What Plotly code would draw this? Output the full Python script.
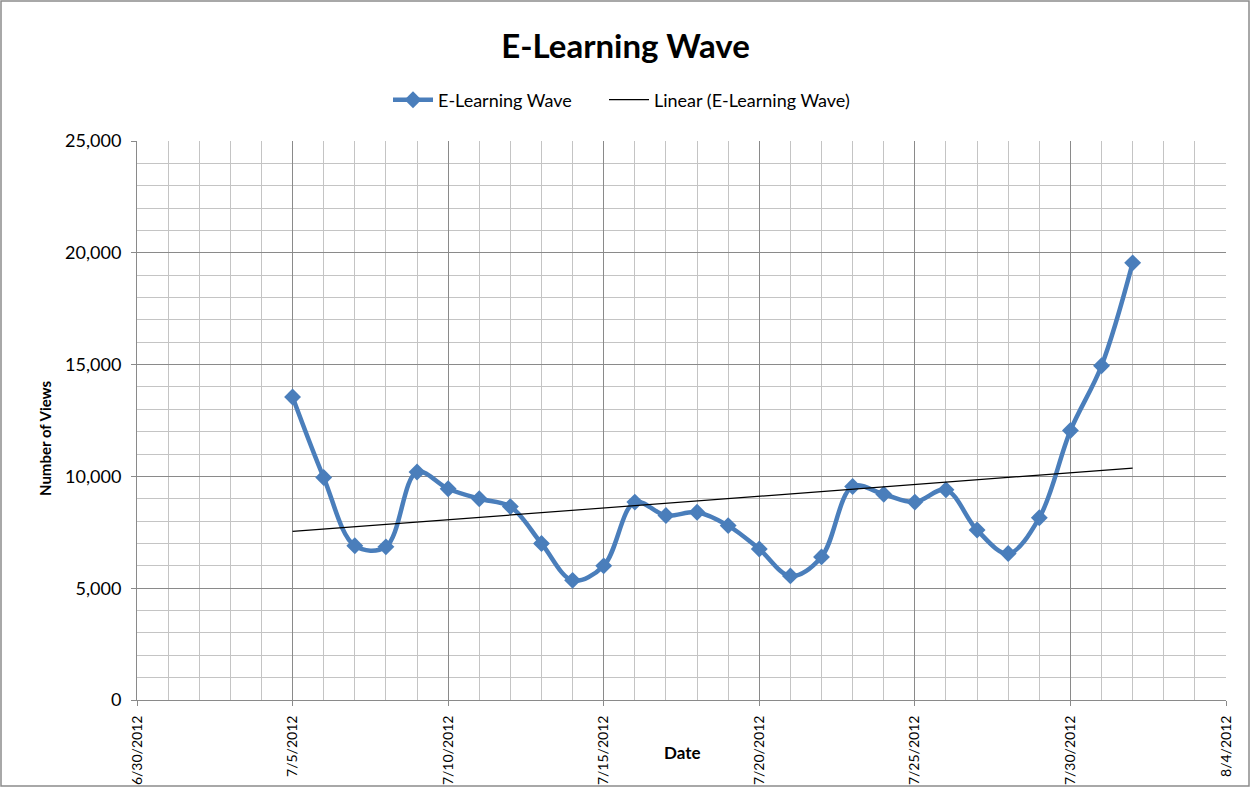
import numpy as np
import pandas as pd
import plotly.graph_objects as go

dates = pd.date_range("2012-07-05", "2012-08-01", freq="D")
views = [13550, 9950, 6900, 6850, 10200, 9450, 9000, 8650, 7000, 5350,
         6000, 8850, 8250, 8400, 7800, 6750, 5550, 6400, 9550, 9200,
         8850, 9400, 7600, 6550, 8150, 12050, 14950, 19550]
series_name = "E-Learning Wave"
trend_name = "Linear (E-Learning Wave)"
y_ticks = [0, 5000, 10000, 15000, 20000, 25000]

# linear trendline (least squares over day index)
days = np.arange(len(views))
slope, intercept = np.polyfit(days, views, 1)
trend = slope * days + intercept

W, H = 1251, 789
L, R, T, B = 137, 25, 141, 89
pw, ph = W - L - R, H - T - B

font = "Lato, 'Open Sans', sans-serif"
major = "#8A8A8A"
minor = "#C4C4C4"
blue = "#4A7EBB"

fig = go.Figure()
fig.add_trace(go.Scatter(
    x=dates, y=views, name=series_name, mode="lines+markers",
    line=dict(color=blue, width=4.5, shape="spline", smoothing=1),
    marker=dict(symbol="diamond", size=13, color=blue),
    legend="legend",
))
fig.add_trace(go.Scatter(
    x=dates, y=trend, name=trend_name, mode="lines",
    line=dict(color="black", width=1.2),
    legend="legend2",
))

leg_y = (ph + T - 100) / ph
leg_common = dict(orientation="h", xanchor="left", y=leg_y, yanchor="middle",
                  font=dict(size=18), itemwidth=40, bgcolor="rgba(0,0,0,0)")

fig.update_layout(
    width=W, height=H,
    margin=dict(l=L, r=R, t=T, b=B, autoexpand=False),
    paper_bgcolor="white", plot_bgcolor="white",
    font=dict(family=font, size=15, color="black"),
    title=dict(text="<b>E-Learning Wave</b>", x=0.5, xanchor="center",
               y=1 - 46 / H, yanchor="middle",
               font=dict(size=33, family=font, color="black")),
    legend=dict(x=(388 - L) / pw, **leg_common),
    legend2=dict(x=(604 - L) / pw, **leg_common),
    showlegend=True,
)

fig.update_xaxes(
    type="date",
    range=["2012-06-30", "2012-08-04"],
    tick0="2012-06-30", dtick=5 * 86400000,
    tickformat="%-m/%-d/%Y", tickangle=-90,
    ticks="outside", ticklen=5, tickcolor=major,
    ticklabelstandoff=4,
    showgrid=True, gridcolor=major, gridwidth=1,
    minor=dict(dtick=86400000, showgrid=True, gridcolor=minor, gridwidth=1),
    showline=True, linecolor=major, linewidth=1,
    zeroline=False, automargin=False,
    tickfont=dict(size=14),
)
fig.update_yaxes(
    range=[0, 25000],
    tickvals=y_ticks, tickformat=",d",
    ticks="outside", ticklen=5, tickcolor=major,
    ticklabelstandoff=6,
    showgrid=True, gridcolor=major, gridwidth=1,
    minor=dict(dtick=1000, showgrid=True, gridcolor=minor, gridwidth=1),
    showline=True, linecolor=major, linewidth=1,
    zeroline=False, automargin=False,
    tickfont=dict(size=18),
)

# axis titles placed as in the reference
fig.add_annotation(text="<b>Date</b>", xref="paper", yref="paper",
                   x=(682 - L) / pw, y=-(752 - (T + ph)) / ph,
                   showarrow=False, font=dict(size=17),
                   xanchor="center", yanchor="middle")
fig.add_annotation(text="<b>Number of Views</b>", xref="paper", yref="paper",
                   x=(45 - L) / pw, y=(T + ph - 438) / ph, textangle=-90,
                   showarrow=False, font=dict(size=15),
                   xanchor="center", yanchor="middle")

# outer chart border
fig.add_shape(type="rect", xref="paper", yref="paper",
              x0=(1 - L) / pw, x1=(W - 2 - L) / pw,
              y0=(T + ph - (H - 3)) / ph, y1=(T + ph - 1) / ph,
              line=dict(color="#8C8C8C", width=1.5), fillcolor="rgba(0,0,0,0)",
              layer="below")

fig.write_html("out.html", config={"displayModeBar": False},
               post_script="document.body.style.margin='0';document.body.style.overflow='hidden';")
